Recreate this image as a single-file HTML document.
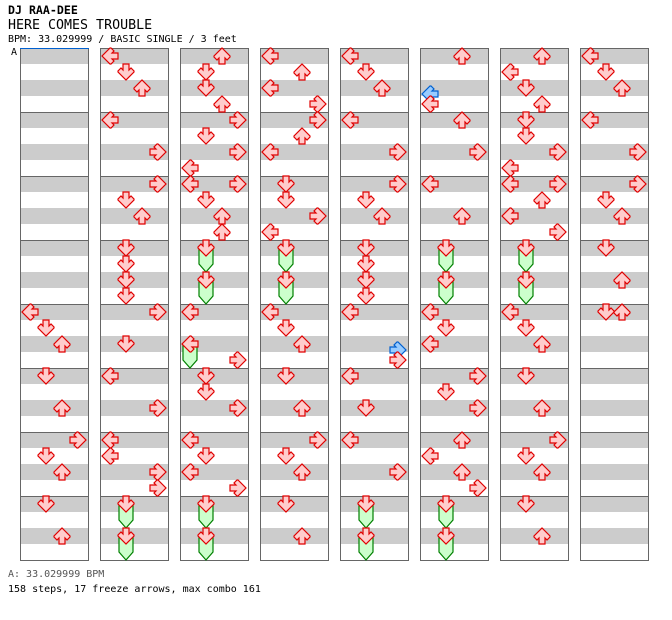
<!DOCTYPE html>
<html><head><meta charset="utf-8"><style>
body{margin:0;background:#fff;width:672px;height:620px;overflow:hidden;font-family:"DejaVu Sans Mono","Liberation Mono",monospace}
.t{position:absolute;white-space:pre;color:#000}
</style></head><body>
<div class="t" style="left:8px;top:3px;font-size:11.6px;font-weight:bold">DJ RAA-DEE</div>
<div class="t" style="left:8px;top:18px;font-size:13.3px">HERE COMES TROUBLE</div>
<div class="t" style="left:8px;top:34px;font-size:10px">BPM: 33.029999 / BASIC SINGLE / 3 feet</div>
<div class="t" style="left:11px;top:47px;font-size:10px">A</div>
<div class="t" style="left:8px;top:569px;font-size:10px;color:#555">A: 33.029999 BPM</div>
<div class="t" style="left:8px;top:584px;font-size:10px">158 steps, 17 freeze arrows, max combo 161</div>
<svg id="s" width="672" height="620" style="position:absolute;left:0;top:0" xmlns="http://www.w3.org/2000/svg">
<defs>
<path id="ar" d="M-3,-8 H3 V-2 L5,-4 L8,-1 V0 L0,8 L-8,0 V-1 L-5,-4 L-3,-2 Z"/>
</defs>
</svg>
<script>
var s=document.getElementById('s'),NS='http://www.w3.org/2000/svg',h='';
var cols=[20,100,180,260,340,420,500,580];
cols.forEach(function(x){
 for(var m=0;m<8;m++){var y=48+m*64;h+='<rect x="'+x+'" y="'+y+'" width="68" height="16" fill="#cccccc"/><rect x="'+x+'" y="'+(y+32)+'" width="68" height="16" fill="#cccccc"/>';
 h+='<line x1="'+x+'" x2="'+(x+68)+'" y1="'+(y+0.5)+'" y2="'+(y+0.5)+'" stroke="#666"/>';}
 h+='<rect x="'+(x+0.5)+'" y="48.5" width="68" height="512" fill="none" stroke="#666"/>';
});
h+='<line x1="20" x2="89" y1="48.5" y2="48.5" stroke="#0060d0"/>';
var rot=[90,0,180,-90],lx=[10,26,42,58];
function arrow(c,l,y,blue){var x=cols[c]+lx[l];
 h+='<use href="#ar" transform="translate('+x+','+y+') rotate('+rot[l]+')" fill="'+(blue?'#99ccff':'#ffcccc')+'" stroke="'+(blue?'#0060d0':'#e00000')+'" stroke-width="1.2"/>';}
function fr(c,l,k,k2){var x=cols[c]+lx[l],y=56+k*8,ye=56+k2*8;
 h+='<path d="M'+(x-7)+','+(y)+' V'+ye+' L'+x+','+(ye+8)+' L'+(x+7)+','+ye+' V'+y+' Z" fill="#ccffcc" stroke="#008000" stroke-width="1.2"/>';
 arrow(c,l,y);}
var N=[
[[0,32],[1,34],[2,36],[1,40],[2,44],[3,48],[1,50],[2,52],[1,56],[2,60]],
[[0,0],[1,2],[2,4],[0,8],[3,12],[3,16],[1,18],[2,20],[1,24],[1,26],[1,28],[1,30],[3,32],[1,36],[0,40],[3,44],[0,48],[0,50],[3,52],[3,54]],
[[2,0],[1,2],[1,4],[2,6],[3,8],[1,10],[3,12],[0,14],[0,16],[3,16],[1,18],[2,20],[2,22],[0,32],[3,38],[1,40],[1,42],[3,44],[0,48],[1,50],[0,52],[3,54]],
[[0,0],[2,2],[0,4],[3,6],[3,8],[2,10],[0,12],[1,16],[1,18],[3,20],[0,22],[0,32],[1,34],[2,36],[1,40],[2,44],[3,48],[1,50],[2,52],[1,56],[2,60]],
[[0,0],[1,2],[2,4],[0,8],[3,12],[3,16],[1,18],[2,20],[1,24],[1,26],[1,28],[1,30],[0,32],[3,38],[0,40],[1,44],[0,48],[3,52]],
[[2,0],[0,6],[2,8],[3,12],[0,16],[2,20],[0,32],[1,34],[0,36],[3,40],[1,42],[3,44],[2,48],[0,50],[2,52],[3,54]],
[[2,0],[0,2],[1,4],[2,6],[1,8],[1,10],[3,12],[0,14],[0,16],[3,16],[2,18],[0,20],[3,22],[0,32],[1,34],[2,36],[1,40],[2,44],[3,48],[1,50],[2,52],[1,56],[2,60]],
[[0,0],[1,2],[2,4],[0,8],[3,12],[3,16],[1,18],[2,20],[1,24],[2,28],[1,32],[2,32]]
];
var F=[[1,1,56,58],[1,1,60,62],[2,1,24,26],[2,1,28,30],[2,0,36,38],[2,1,56,58],[2,1,60,62],[3,1,24,26],[3,1,28,30],[4,1,56,58],[4,1,60,62],[5,1,24,26],[5,1,28,30],[5,1,56,58],[5,1,60,62],[6,1,24,26],[6,1,28,30]];
// blue
arrow(5,0,94,true);arrow(4,3,350,true);
N.forEach(function(a,c){a.forEach(function(n){arrow(c,n[0],56+n[1]*8);});});
F.forEach(function(f){fr(f[0],f[1],f[2],f[3]);});
s.innerHTML+=h;
</script>
</body></html>
